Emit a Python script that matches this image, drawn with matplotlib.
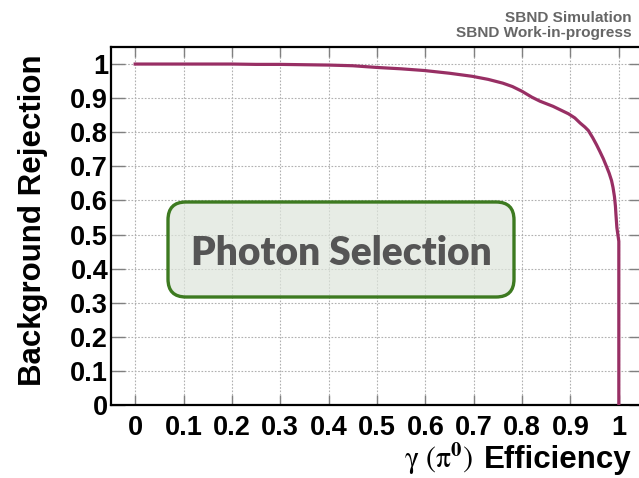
import matplotlib
matplotlib.use("Agg")
import matplotlib.pyplot as plt
from matplotlib.patches import FancyBboxPatch

# ROC curve: photon efficiency vs background rejection
efficiency = [0.0, 0.1, 0.2, 0.25, 0.3, 0.35, 0.4, 0.45, 0.5, 0.55, 0.598, 0.65, 0.697,
              0.73, 0.76, 0.78, 0.80, 0.82, 0.837, 0.864, 0.896, 0.909, 0.920, 0.930,
              0.937, 0.946, 0.954, 0.961, 0.968, 0.975, 0.980, 0.985, 0.988, 0.991,
              0.993, 0.994, 0.995, 0.996, 0.998, 1.0, 1.0]
rejection = [1.0, 1.0, 1.0, 0.999, 0.999, 0.998, 0.997, 0.995, 0.990, 0.986, 0.981, 0.973, 0.964,
             0.955, 0.944, 0.934, 0.920, 0.903, 0.891, 0.876, 0.854, 0.842, 0.827, 0.815,
             0.805, 0.784, 0.763, 0.743, 0.722, 0.698, 0.680, 0.658, 0.638, 0.611,
             0.583, 0.560, 0.540, 0.520, 0.500, 0.480, 0.0]
ticks = [0, 0.1, 0.2, 0.3, 0.4, 0.5, 0.6, 0.7, 0.8, 0.9, 1]
tick_labels = ["0", "0.1", "0.2", "0.3", "0.4", "0.5", "0.6", "0.7", "0.8", "0.9", "1"]

plt.rcParams["font.family"] = ["Liberation Sans", "DejaVu Sans"]
plt.rcParams["mathtext.fontset"] = "stix"

W, H = 639, 478
fig = plt.figure(figsize=(W / 100, H / 100), dpi=100)
# axes runs a little past the right edge of the canvas (as in the original)
ax = fig.add_axes([111 / W, 73 / H, 532 / W, 358 / H])
ax.set_xlim(-0.05, 1.05)
ax.set_ylim(0, 1.05)

ax.plot(efficiency, rejection, color="#982f64", lw=2.3, zorder=3)

ax.set_xticks(ticks)
ax.set_xticklabels(tick_labels)
ax.set_yticks(ticks)
ax.set_yticklabels(tick_labels)
ax.tick_params(axis="x", direction="in", length=7, width=1, color="#808080",
               labelsize=19.5, pad=7, top=True)
ax.tick_params(axis="y", direction="in", length=10, width=1, color="#808080",
               labelsize=19.5, pad=2, right=True)
for lab in ax.get_xticklabels() + ax.get_yticklabels():
    lab.set_fontweight("bold")

ax.grid(True, color="#b0b0b0", ls=(0, (1.5, 1.5)), lw=0.8)
ax.set_axisbelow(True)
for s in ["left", "bottom", "top"]:
    ax.spines[s].set_linewidth(1.6)
    ax.spines[s].set_color("black")

# labels
fig.text(33 / W, 1 - 220 / H, "Background Rejection", rotation=90, ha="center",
         va="center", fontsize=22.5, fontweight="bold")
eff = fig.text(632 / W, 1 - 468 / H, "Efficiency", ha="right",
               va="baseline", fontsize=22.5, fontweight="bold")
fig.canvas.draw()
ex0 = eff.get_window_extent().x0
fig.text((ex0 - 11) / W, 1 - 468 / H, r"$\mathrm{\gamma}\ (\mathrm{\pi}^{\mathbf{0}})$",
         ha="right", va="baseline", fontsize=21.5, fontweight="normal")

fig.text(632 / W, 1 - 22 / H, "SBND Simulation", ha="right", va="baseline",
         fontsize=11.1, fontweight="bold", color="#666666")
fig.text(632 / W, 1 - 37 / H, "SBND Work-in-progress", ha="right", va="baseline",
         fontsize=11.1, fontweight="bold", color="#666666")

# rounded label box
bx0, bx1, by0, by1 = 168 / W, 514 / W, 1 - 297 / H, 1 - 202 / H
box = FancyBboxPatch((bx0, by0), bx1 - bx0, by1 - by0,
                     boxstyle="round,pad=0,rounding_size=0.028",
                     mutation_aspect=W / H, transform=fig.transFigure,
                     facecolor=(222 / 255, 229 / 255, 219 / 255, 0.7),
                     edgecolor="#3d7a20", lw=2.4, zorder=5)
fig.patches.append(box)
fig.text((bx0 + bx1) / 2, 1 - 250 / H, "Photon Selection", ha="center", va="center_baseline",
         fontsize=28, fontweight="heavy", color="#555555", family=["Lato", "DejaVu Sans"],
         zorder=6)

fig.savefig("out.png", dpi=100)
